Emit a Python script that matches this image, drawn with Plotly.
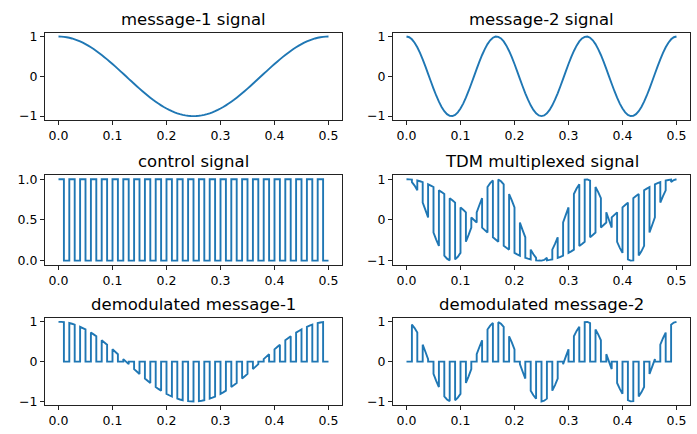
import plotly.graph_objects as go
from plotly.subplots import make_subplots

# time grid (s), step 0.005
t = [round(0.005 * k, 3) for k in range(101)]

# message-1 samples (one slow cosine cycle over 0..0.5 s)
msg1 = [1.000, 0.998, 0.992, 0.982, 0.969, 0.951, 0.930, 0.905, 0.876, 0.844,
        0.809, 0.771, 0.729, 0.685, 0.637, 0.588, 0.536, 0.482, 0.426, 0.368,
        0.309, 0.249, 0.187, 0.125, 0.063, 0.000, -0.063, -0.125, -0.187, -0.249,
        -0.309, -0.368, -0.426, -0.482, -0.536, -0.588, -0.637, -0.685, -0.729, -0.771,
        -0.809, -0.844, -0.876, -0.905, -0.930, -0.951, -0.969, -0.982, -0.992, -0.998,
        -1.000, -0.998, -0.992, -0.982, -0.969, -0.951, -0.930, -0.905, -0.876, -0.844,
        -0.809, -0.771, -0.729, -0.685, -0.637, -0.588, -0.536, -0.482, -0.426, -0.368,
        -0.309, -0.249, -0.187, -0.125, -0.063, 0.000, 0.063, 0.125, 0.187, 0.249,
        0.309, 0.368, 0.426, 0.482, 0.536, 0.588, 0.637, 0.685, 0.729, 0.771,
        0.809, 0.844, 0.876, 0.905, 0.930, 0.951, 0.969, 0.982, 0.992, 0.998, 1.000]

# message-2 samples (three cosine cycles over 0..0.5 s)
msg2 = [1.000, 0.982, 0.930, 0.844, 0.729, 0.588, 0.426, 0.249, 0.063, -0.125,
        -0.309, -0.482, -0.637, -0.771, -0.876, -0.951, -0.992, -0.998, -0.969, -0.905,
        -0.809, -0.685, -0.536, -0.368, -0.187, 0.000, 0.187, 0.368, 0.536, 0.685,
        0.809, 0.905, 0.969, 0.998, 0.992, 0.951, 0.876, 0.771, 0.637, 0.482,
        0.309, 0.125, -0.063, -0.249, -0.426, -0.588, -0.729, -0.844, -0.930, -0.982,
        -1.000, -0.982, -0.930, -0.844, -0.729, -0.588, -0.426, -0.249, -0.063, 0.125,
        0.309, 0.482, 0.637, 0.771, 0.876, 0.951, 0.992, 0.998, 0.969, 0.905,
        0.809, 0.685, 0.536, 0.368, 0.187, 0.000, -0.187, -0.368, -0.536, -0.685,
        -0.809, -0.905, -0.969, -0.998, -0.992, -0.951, -0.876, -0.771, -0.637, -0.482,
        -0.309, -0.125, 0.063, 0.249, 0.426, 0.588, 0.729, 0.844, 0.930, 0.982, 1.000]

# control signal level in each 0.01 s slot (50 slots)
control = [1, 0] * 25

titles = ["message-1 signal", "message-2 signal", "control signal",
          "TDM multiplexed signal", "demodulated message-1", "demodulated message-2"]
x_ticks = [0.0, 0.1, 0.2, 0.3, 0.4, 0.5]

# build stepped series from the slot table
cx, cy, tx, ty, d1x, d1y, d2x, d2y = [], [], [], [], [], [], [], []
for i, lvl in enumerate(control):
    ks = [2 * i, 2 * i + 1, 2 * i + 2]
    cx += [t[ks[0]], t[ks[-1]]]
    cy += [lvl, lvl]
    for k in ks:
        tx.append(t[k]); ty.append(msg1[k] if lvl else msg2[k])
        d1x.append(t[k]); d1y.append(msg1[k] if lvl else 0.0)
        d2x.append(t[k]); d2y.append(0.0 if lvl else msg2[k])

C0 = "#1f77b4"
fig = make_subplots(rows=3, cols=2)
series = [(t, msg1), (t, msg2), (cx, cy), (tx, ty), (d1x, d1y), (d2x, d2y)]
for idx, (xs, ys) in enumerate(series):
    r, c = idx // 2 + 1, idx % 2 + 1
    fig.add_trace(go.Scatter(x=xs, y=ys, mode="lines",
                             line=dict(color=C0, width=1.9, simplify=False),
                             showlegend=False),
                  row=r, col=c)

W, H = 697, 434
xdom = [(45 / W, 342 / W), (393 / W, 690 / W)]
ydom = [(1 - 118 / H, 1 - 29 / H), (1 - 265 / H, 1 - 174 / H), (1 - 408 / H, 1 - 319 / H)]

font = dict(family="DejaVu Sans", size=12.5, color="black")
annotations = []
for idx in range(6):
    r, c = idx // 2, idx % 2
    n = idx + 1
    xa = "xaxis" if n == 1 else f"xaxis{n}"
    ya = "yaxis" if n == 1 else f"yaxis{n}"
    if idx == 2:
        yr, yt, yf = [-0.05, 1.05], [0.0, 0.5, 1.0], ".1f"
    else:
        yr, yt, yf = [-1.1, 1.1], [-1, 0, 1], "d"
    fig.update_layout({
        xa: dict(domain=list(xdom[c]), range=[-0.025, 0.525], tickvals=x_ticks,
                 tickformat=".1f", showgrid=False, zeroline=False, showline=True,
                 mirror=True, linecolor="#222222", linewidth=1, ticks="outside",
                 ticklen=4, tickcolor="#222222", tickfont=font),
        ya: dict(domain=list(ydom[r]), range=yr, tickvals=yt, tickformat=yf,
                 showgrid=False, zeroline=False, showline=True, mirror=True,
                 linecolor="#222222", linewidth=1, ticks="outside", ticklen=4,
                 tickcolor="#222222", tickfont=font),
    })
    annotations.append(dict(text=titles[idx], x=(xdom[c][0] + xdom[c][1]) / 2,
                            y=ydom[r][1], xref="paper", yref="paper",
                            xanchor="center", yanchor="bottom", yshift=2,
                            showarrow=False,
                            font=dict(family="DejaVu Sans", size=16.5, color="black")))

fig.update_layout(width=W, height=H, margin=dict(l=0, r=0, t=0, b=0),
                  paper_bgcolor="white", plot_bgcolor="white",
                  annotations=annotations)
fig.write_html("out.html")
